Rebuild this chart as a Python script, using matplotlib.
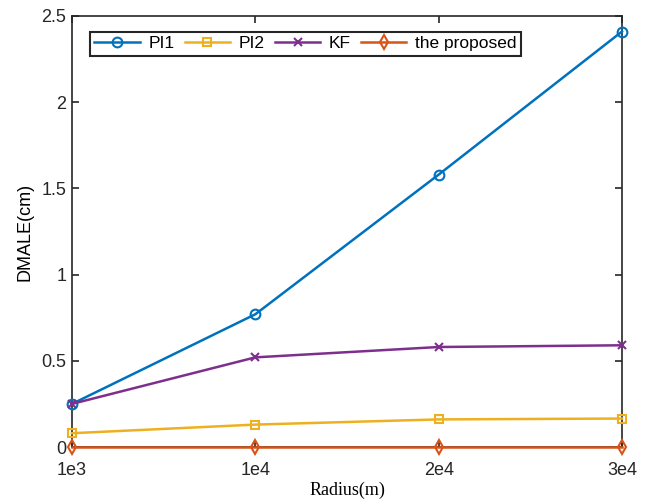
import matplotlib
matplotlib.use("Agg")
import matplotlib.pyplot as plt

categories = ["1e3", "1e4", "2e4", "3e4"]
pi1 = [0.25, 0.77, 1.58, 2.41]
pi2 = [0.08, 0.13, 0.16, 0.165]
kf = [0.25, 0.52, 0.58, 0.59]
proposed = [0.0, 0.0, 0.0, 0.0]
yticks = [0, 0.5, 1, 1.5, 2, 2.5]
ytick_labels = ["0", "0.5", "1", "1.5", "2", "2.5"]

plt.rcParams['font.family'] = ['Liberation Sans', 'DejaVu Sans']

fig = plt.figure(figsize=(6.49, 5.04), dpi=100)
L, R, T, B = 72, 622, 16, 447
ax = fig.add_axes([L/649, 1 - B/504, (R-L)/649, (B-T)/504])

x = list(range(len(categories)))
lw = 1.8
ax.plot(x, pi1, color='#0072BD', marker='o', mfc='none', mew=1.5, ms=7, lw=lw, label='PI1', clip_on=False, zorder=3)
ax.plot(x, pi2, color='#EDB120', marker='s', mfc='none', mew=1.5, ms=6, lw=lw, label='PI2', clip_on=False, zorder=3)
ax.plot(x, kf, color='#7E2F8E', marker='x', mew=1.5, ms=6, lw=lw, label='KF', clip_on=False, zorder=3)
ax.plot(x, proposed, color='#D95319', marker='d', mfc='none', mew=1.5, ms=7, lw=lw, label='the proposed', clip_on=False, zorder=4)

ax.set_xlim(0, 3)
ax.set_ylim(0, 2.5)
ax.set_xticks(x)
ax.set_xticklabels(categories)
ax.set_yticks(yticks)
ax.set_yticklabels(ytick_labels)
ax.tick_params(direction='in', top=True, right=True, labelsize=13, length=5, width=1.2,
               colors='#262626')
ax.tick_params(axis='x', pad=11)
ax.tick_params(axis='y', pad=4)
for s in ax.spines.values():
    s.set_linewidth(1.2)
    s.set_color('#262626')

ax.set_xlabel('Radius(m)', fontsize=13, family=['Liberation Serif'], labelpad=2)
ax.set_ylabel('DMALE(cm)', fontsize=13, labelpad=6)

leg = ax.legend(loc='upper left', ncol=4, bbox_to_anchor=(0.033, 0.963), borderaxespad=0,
                fontsize=12.5, frameon=True, fancybox=False, edgecolor='#262626',
                handlelength=2.6, columnspacing=0.6, handletextpad=0.5, borderpad=0.25)
leg.get_frame().set_linewidth(1.5)
leg.get_frame().set_alpha(1)

fig.savefig('out.png', dpi=100)
